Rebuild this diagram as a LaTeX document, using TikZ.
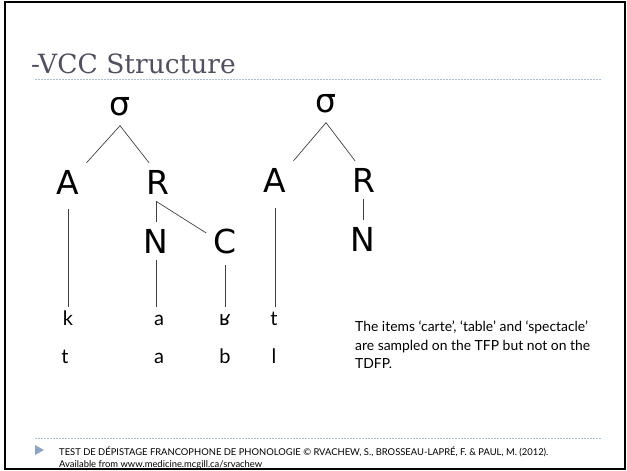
\documentclass[tikz,border=0pt]{standalone}
\usepackage{fontspec}
\setmainfont{Lato}
\newfontfamily\treefont{DejaVu Sans}
\newfontfamily\titlefont{DejaVu Serif}
\newfontfamily\ipafont{DejaVu Sans}
\definecolor{titlegrey}{RGB}{80,80,96}
\definecolor{rulecol}{RGB}{170,190,210}
\definecolor{bulletcol}{RGB}{140,165,195}

\begin{document}
\begin{tikzpicture}[x=1pt, y=-1pt,
  tree/.style={font=\fontsize{33}{33}\selectfont\treefont, inner sep=7pt, text height=24pt, text depth=0pt, anchor=base},
  sig/.style={font=\fontsize{33}{33}\selectfont\treefont, inner sep=10pt, anchor=base},
  seg/.style={font=\fontsize{20}{20}\selectfont, inner sep=4pt, text height=14pt, text depth=0pt, anchor=base},
  link/.style={line width=0.7pt, black!75}]
\useasboundingbox (0,0) rectangle (627,471);
\draw[line width=2pt] (5,2) rectangle (625,469);

% title
\node[anchor=base west, inner sep=0, text=titlegrey, font=\fontsize{26.5}{26.5}\selectfont\titlefont] (title) at (31,73) {-VCC Structure};
\draw[rulecol, line width=0.6pt, dash pattern=on 1.5pt off 1.5pt] (35,79) -- (602,79);

% first tree
\node[sig] (s1) at (120,115) {σ};
\node[tree] (a1) at (68,194) {A};
\node[tree] (r1) at (158,194) {R};
\node[tree] (n1) at (156,253) {N};
\node[tree] (c1) at (225,253) {C};
\draw[link] (s1.south) -- (a1.north east);
\draw[link] (s1.south) -- (r1.115);
\draw[link] (r1.south -| n1) -- (n1.north);
\draw[link] (r1.south -| n1) -- (c1.157);

% second tree
\node[sig] (s2) at (326,112) {σ};
\node[tree] (a2) at (275,192) {A};
\node[tree] (r2) at (364,192) {R};
\node[tree] (n2) at (363,251) {N};
\draw[link] (s2.south) -- (a2.north east);
\draw[link] (s2.south) -- (r2.115);
\draw[link] (r2.south -| n2) -- (n2.north);

% segments
\node[seg] (p1) at (68,325) {k};
\node[seg] (p2) at (159,325) {a};
\node[seg] (p3) at (225,325) {\ipafont ʁ};
\node[seg] (p4) at (274,325) {t};
\node[seg] (q1) at (65,363) {t};
\node[seg] (q2) at (159,363) {a};
\node[seg] (q3) at (225,363) {b};
\node[seg] (q4) at (274,363) {l};
\draw[link, shorten <=8pt] (a1.south) -- (a1.south |- p1.north);
\draw[link] (n1.south) -- (n1.south |- p2.north);
\draw[link, shorten <=5pt] (c1.south) -- (c1.south |- p3.north);
\draw[link, shorten <=9pt] (a2.south) -- (a2.south |- p4.north);

% note
\node[anchor=north west, align=left, inner sep=0, font=\fontsize{13.9}{18.5}\selectfont] (note) at (355,321)
  {The items ‘carte’, ‘table’ and ‘spectacle’\\are sampled on the TFP but not on the\\TDFP.};

% footer
\draw[rulecol, line width=0.6pt, dash pattern=on 1.5pt off 1.5pt] (35,438) -- (602,438);
\fill[bulletcol] (35,445) -- (44,450) -- (35,455) -- cycle;
\node[anchor=base west, inner sep=0, font=\fontsize{9.4}{11}\selectfont] (foot1) at (59,455)
  {TEST DE DÉPISTAGE FRANCOPHONE DE PHONOLOGIE © RVACHEW, S., BROSSEAU-LAPRÉ, F. \& PAUL, M. (2012).};
\node[anchor=base west, inner sep=0, font=\fontsize{9.4}{11}\selectfont] (foot2) at (59,467)
  {Available from www.medicine.mcgill.ca/srvachew};
\end{tikzpicture}
\end{document}
